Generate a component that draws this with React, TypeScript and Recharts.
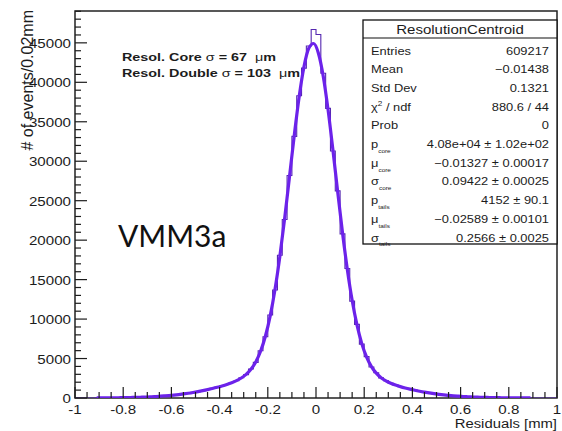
import React from "react";
import { ComposedChart, Line, XAxis, YAxis, ReferenceArea } from "recharts";

// histogram: 100 bins of 0.02 mm from -1 to 1 (counts)
const BIN_START = -1;
const BIN_WIDTH = 0.02;
const histCounts = [
  3, 6, 5, 9, 12, 13, 20, 22, 33, 37,
  52, 60, 80, 93, 123, 142, 183, 210, 268, 305,
  380, 430, 528, 595, 712, 800, 940, 1048, 1220, 1345,
  1550, 1705, 1960, 2180, 2560, 2960, 3680, 4520, 5980, 7760,
  10520, 13680, 18080, 22620, 28200, 33150, 38300, 41800, 44600, 46700,
  46050, 41150, 36700, 31300, 26250, 20800, 16400, 12280, 9330, 6830,
  5240, 3930, 3190, 2550, 2200, 1855, 1660, 1430, 1290, 1105,
  995, 845, 755, 632, 558, 462, 404, 330, 285, 228,
  197, 154, 132, 102, 88, 65, 56, 41, 35, 25,
  22, 15, 13, 8, 7, 4, 5, 2, 3, 1,
];

// double gaussian fit, sampled at the bin centres from -0.91 to 0.89
const FIT_START = -0.91;
const fitValues = [
  11, 14, 19, 24, 31, 39, 49, 62, 77, 96,
  119, 146, 178, 216, 260, 311, 371, 439, 516, 603,
  700, 809, 929, 1060, 1204, 1360, 1531, 1721, 1939, 2201,
  2537, 2992, 3639, 4573, 5923, 7828, 10414, 13783, 17937, 22772,
  28031, 33319, 38135, 41952, 44315, 44919, 43688, 40774, 36537, 31481,
  26124, 20945, 16292, 12373, 9255, 6894, 5182, 3980, 3152, 2580,
  2176, 1875, 1640, 1444, 1273, 1121, 983, 858, 745, 642,
  550, 469, 397, 335, 280, 233, 193, 158, 129, 105,
  85, 68, 54, 43, 34, 26, 21, 16, 12, 9, 7,
];

const yMajorTicks = [0, 5000, 10000, 15000, 20000, 25000, 30000, 35000, 40000, 45000];
const Y_MAX = 49035;

const statLabels = [
  { t: "Entries" }, { t: "Mean" }, { t: "Std Dev" }, { t: "χ", sup: "2", after: " / ndf" }, { t: "Prob" },
  { t: "p", sub: "core" }, { t: "μ", sub: "core" }, { t: "σ", sub: "core" },
  { t: "p", sub: "tails" }, { t: "μ", sub: "tails" }, { t: "σ", sub: "tails" },
];
const statValues = [
  "609217", "−0.01438", "0.1321", "880.6 / 44", "0",
  "4.08e+04 ± 1.02e+02", "−0.01327 ± 0.00017", "0.09422 ± 0.00025",
  "4152 ± 90.1", "−0.02589 ± 0.00101", "0.2566 ± 0.0025",
];

const FONT = '"Liberation Sans", Arial, Helvetica, sans-serif';
const INK = "#1c1c1c";

const histData = [
  ...histCounts.map((c, i) => ({ x: +(BIN_START + i * BIN_WIDTH).toFixed(2), y: c })),
  { x: 1, y: histCounts[histCounts.length - 1] },
];
const fitData = fitValues.map((v, i) => ({ x: +(FIT_START + i * BIN_WIDTH).toFixed(2), y: v }));

// tick positions (every 0.05 on x, every 1000 on y; majors get labels)
const xTicks = Array.from({ length: 41 }, (_, i) => +(-1 + i * 0.05).toFixed(2));
const yTicks = Array.from({ length: 50 }, (_, i) => i * 1000);

function SText({ x, y, size, sx = 1, anchor = "start", weight = "normal", family = FONT, fill = INK, children }: any) {
  return (
    <text
      transform={`translate(${x} ${y}) scale(${sx} 1)`}
      fontSize={size}
      fontFamily={family}
      fontWeight={weight}
      textAnchor={anchor}
      fill={fill}
      xmlSpace="preserve"
      style={{ whiteSpace: "pre" }}
    >
      {children}
    </text>
  );
}

function XTick(props: any) {
  const { x, y, payload } = props;
  const v = payload.value;
  const major = Math.abs(v * 5 - Math.round(v * 5)) < 1e-6;
  return (
    <g>
      <line x1={x} x2={x} y1={y} y2={y - (major ? 11 : 6)} stroke={INK} strokeWidth={1.2} />
      {major && (
        <SText x={x} y={y + 16} size={13.5} sx={1.12} anchor="middle">{String(v)}</SText>
      )}
    </g>
  );
}

function YTick(props: any) {
  const { x, y, payload } = props;
  const v = payload.value;
  const major = yMajorTicks.includes(v);
  return (
    <g>
      <line x1={x} x2={x + (major ? 12 : 6)} y1={y} y2={y} stroke={INK} strokeWidth={1.2} />
      {major && (
        <SText x={x - 4} y={y + 5} size={13.5} sx={1.12} anchor="end">{String(v)}</SText>
      )}
    </g>
  );
}

function StatsBox() {
  const left = 363, top = 20, w = 194, h = 224;
  return (
    <g>
      <rect x={left} y={top} width={w} height={h} fill="#fff" stroke="#111" strokeWidth={1.3} />
      <line x1={left} x2={left + w} y1={38} y2={38} stroke="#111" strokeWidth={1.1} />
      <SText x={left + w / 2} y={34} size={12.5} sx={1.2} anchor="middle">ResolutionCentroid</SText>
      {statLabels.map((l, i) => {
        const by = 54.5 + i * 18.7;
        return (
          <g key={i}>
            <SText x={371} y={by} size={11} sx={1.17}>
              {l.t}
              {l.sup && <tspan fontSize={7} dy={-5}>{l.sup}</tspan>}
              {l.after && <tspan dy={l.sup ? 5 : 0}>{l.after}</tspan>}
              {l.sub && <tspan fontSize={5.5} dy={5}>{l.sub}</tspan>}
            </SText>
            <SText x={549} y={by} size={11} sx={1.17} anchor="end">{statValues[i]}</SText>
          </g>
        );
      })}
    </g>
  );
}

export default function App() {
  return (
    <div style={{ position: "absolute", left: 0, top: 0, width: 562, height: 431, background: "#fff" }}>
      <ComposedChart width={562} height={431} margin={{ top: 11, right: 5, bottom: 32, left: 74 }}>
        <XAxis
          type="number" dataKey="x" domain={[-1, 1]} allowDataOverflow ticks={xTicks} interval={0}
          tickSize={0} tickMargin={0} axisLine={false} tickLine={false} height={1}
          tick={(p: any) => <XTick {...p} />}
        />
        <YAxis
          type="number" domain={[0, Y_MAX]} allowDataOverflow ticks={yTicks} interval={0}
          tickSize={0} tickMargin={0} axisLine={false} tickLine={false} width={1}
          tick={(p: any) => <YTick {...p} />}
        />
        <ReferenceArea x1={-1} x2={1} y1={0} y2={Y_MAX} fill="none" stroke="#222" strokeWidth={1.5} ifOverflow="visible" />
        <Line data={histData} dataKey="y" type="stepAfter" stroke="#5528b0" strokeWidth={1.1} dot={false} isAnimationActive={false} />
        <Line data={fitData} dataKey="y" type="monotone" stroke="#6c22ea" strokeWidth={3.2} dot={false} isAnimationActive={false} />
      </ComposedChart>
      <svg width={562} height={431} style={{ position: "absolute", left: 0, top: 0, pointerEvents: "none" }}>
        <text transform="translate(33 10) rotate(-90)" fontSize={16} fontFamily={FONT} fill={INK} textAnchor="end">
          # of events/0.02mm
        </text>
        <SText x={557} y={428} size={13.5} sx={1.1} anchor="end">Residuals [mm]</SText>
        <SText x={122} y={61} size={11.5} sx={1.25} weight="bold">
          Resol. Core <tspan fontWeight="normal">σ</tspan> = 67  <tspan fontWeight="normal">μ</tspan>m
        </SText>
        <SText x={122} y={77} size={11.5} sx={1.25} weight="bold">
          Resol. Double <tspan fontWeight="normal">σ</tspan> = 103  <tspan fontWeight="normal">μ</tspan>m
        </SText>
        <SText x={118} y={247} size={30} family="Lato, 'Open Sans', sans-serif" fill="#111">VMM3a</SText>
        <StatsBox />
      </svg>
    </div>
  );
}
